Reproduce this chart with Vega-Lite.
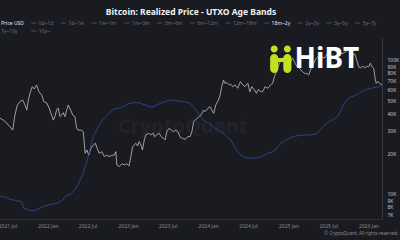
{
  "$schema": "https://vega.github.io/schema/vega-lite/v6.json",
  "width": 382,
  "height": 181,
  "autosize": {"type": "none"},
  "padding": {"left": 0, "top": 38, "right": 18, "bottom": 21},
  "background": "#1a1a21",
  "config": {
    "view": {"stroke": null},
    "font": "Noto Sans",
    "axis": {"grid": false, "ticks": false}
  },
  "title": {
    "text": "Bitcoin: Realized Price - UTXO Age Bands",
    "color": "#f2f2f2",
    "fontSize": 8.5,
    "fontWeight": "bold",
    "font": "Noto Sans",
    "anchor": "middle",
    "offset": 4
  },
  "datasets": {
    "series": [
      {"d":"2021-05-28","s":"Price USD","v":36700},
      {"d":"2021-06-12","s":"Price USD","v":35600},
      {"d":"2021-06-27","s":"Price USD","v":33900},
      {"d":"2021-07-13","s":"Price USD","v":31600},
      {"d":"2021-07-25","s":"Price USD","v":30000},
      {"d":"2021-08-04","s":"Price USD","v":38900},
      {"d":"2021-08-15","s":"Price USD","v":46100},
      {"d":"2021-08-27","s":"Price USD","v":48800},
      {"d":"2021-09-08","s":"Price USD","v":50300},
      {"d":"2021-09-19","s":"Price USD","v":46100},
      {"d":"2021-09-27","s":"Price USD","v":42300},
      {"d":"2021-10-04","s":"Price USD","v":50300},
      {"d":"2021-10-12","s":"Price USD","v":56700},
      {"d":"2021-10-22","s":"Price USD","v":63200},
      {"d":"2021-10-31","s":"Price USD","v":60800},
      {"d":"2021-11-11","s":"Price USD","v":65100},
      {"d":"2021-11-21","s":"Price USD","v":58000},
      {"d":"2021-12-04","s":"Price USD","v":54800},
      {"d":"2021-12-14","s":"Price USD","v":48800},
      {"d":"2021-12-27","s":"Price USD","v":47800},
      {"d":"2022-01-07","s":"Price USD","v":43800},
      {"d":"2022-01-18","s":"Price USD","v":38900},
      {"d":"2022-01-26","s":"Price USD","v":35600},
      {"d":"2022-02-02","s":"Price USD","v":37800},
      {"d":"2022-02-10","s":"Price USD","v":42300},
      {"d":"2022-02-17","s":"Price USD","v":43800},
      {"d":"2022-02-25","s":"Price USD","v":37800},
      {"d":"2022-03-05","s":"Price USD","v":38900},
      {"d":"2022-03-12","s":"Price USD","v":40400},
      {"d":"2022-03-20","s":"Price USD","v":37800},
      {"d":"2022-03-28","s":"Price USD","v":42300},
      {"d":"2022-04-04","s":"Price USD","v":46100},
      {"d":"2022-04-15","s":"Price USD","v":42300},
      {"d":"2022-04-24","s":"Price USD","v":38900},
      {"d":"2022-05-04","s":"Price USD","v":37800},
      {"d":"2022-05-12","s":"Price USD","v":31100},
      {"d":"2022-05-18","s":"Price USD","v":30000},
      {"d":"2022-06-01","s":"Price USD","v":30000},
      {"d":"2022-06-11","s":"Price USD","v":29200},
      {"d":"2022-06-20","s":"Price USD","v":20100},
      {"d":"2022-06-28","s":"Price USD","v":21300},
      {"d":"2022-07-06","s":"Price USD","v":19500},
      {"d":"2022-07-16","s":"Price USD","v":21900},
      {"d":"2022-07-27","s":"Price USD","v":23200},
      {"d":"2022-08-05","s":"Price USD","v":23900},
      {"d":"2022-08-14","s":"Price USD","v":21900},
      {"d":"2022-08-23","s":"Price USD","v":20100},
      {"d":"2022-09-04","s":"Price USD","v":20700},
      {"d":"2022-09-15","s":"Price USD","v":19000},
      {"d":"2022-09-26","s":"Price USD","v":19500},
      {"d":"2022-10-07","s":"Price USD","v":19000},
      {"d":"2022-10-20","s":"Price USD","v":19500},
      {"d":"2022-10-30","s":"Price USD","v":19500},
      {"d":"2022-11-07","s":"Price USD","v":20700},
      {"d":"2022-11-11","s":"Price USD","v":16500},
      {"d":"2022-11-22","s":"Price USD","v":16000},
      {"d":"2022-12-04","s":"Price USD","v":16800},
      {"d":"2022-12-15","s":"Price USD","v":16500},
      {"d":"2022-12-26","s":"Price USD","v":16800},
      {"d":"2023-01-06","s":"Price USD","v":16200},
      {"d":"2023-01-14","s":"Price USD","v":19000},
      {"d":"2023-01-22","s":"Price USD","v":22500},
      {"d":"2023-01-29","s":"Price USD","v":23200},
      {"d":"2023-02-06","s":"Price USD","v":23900},
      {"d":"2023-02-14","s":"Price USD","v":22800},
      {"d":"2023-02-21","s":"Price USD","v":24600},
      {"d":"2023-03-01","s":"Price USD","v":23200},
      {"d":"2023-03-08","s":"Price USD","v":21300},
      {"d":"2023-03-16","s":"Price USD","v":25300},
      {"d":"2023-03-23","s":"Price USD","v":27600},
      {"d":"2023-04-05","s":"Price USD","v":28400},
      {"d":"2023-04-15","s":"Price USD","v":27600},
      {"d":"2023-04-26","s":"Price USD","v":28400},
      {"d":"2023-05-02","s":"Price USD","v":26800},
      {"d":"2023-05-12","s":"Price USD","v":27600},
      {"d":"2023-05-23","s":"Price USD","v":28400},
      {"d":"2023-06-01","s":"Price USD","v":26800},
      {"d":"2023-06-12","s":"Price USD","v":26000},
      {"d":"2023-06-19","s":"Price USD","v":25300},
      {"d":"2023-06-27","s":"Price USD","v":29200},
      {"d":"2023-07-07","s":"Price USD","v":30900},
      {"d":"2023-07-17","s":"Price USD","v":30000},
      {"d":"2023-07-27","s":"Price USD","v":29200},
      {"d":"2023-08-07","s":"Price USD","v":30000},
      {"d":"2023-08-16","s":"Price USD","v":29200},
      {"d":"2023-08-27","s":"Price USD","v":26500},
      {"d":"2023-09-06","s":"Price USD","v":26000},
      {"d":"2023-09-18","s":"Price USD","v":25600},
      {"d":"2023-10-01","s":"Price USD","v":26800},
      {"d":"2023-10-11","s":"Price USD","v":26800},
      {"d":"2023-10-19","s":"Price USD","v":29200},
      {"d":"2023-10-27","s":"Price USD","v":34600},
      {"d":"2023-11-06","s":"Price USD","v":36100},
      {"d":"2023-11-18","s":"Price USD","v":37400},
      {"d":"2023-11-30","s":"Price USD","v":38900},
      {"d":"2023-12-11","s":"Price USD","v":42300},
      {"d":"2023-12-18","s":"Price USD","v":41100},
      {"d":"2023-12-31","s":"Price USD","v":43600},
      {"d":"2024-01-10","s":"Price USD","v":44800},
      {"d":"2024-01-18","s":"Price USD","v":42300},
      {"d":"2024-01-26","s":"Price USD","v":40000},
      {"d":"2024-02-05","s":"Price USD","v":46100},
      {"d":"2024-02-17","s":"Price USD","v":50300},
      {"d":"2024-02-25","s":"Price USD","v":54800},
      {"d":"2024-03-03","s":"Price USD","v":63200},
      {"d":"2024-03-11","s":"Price USD","v":70900},
      {"d":"2024-03-18","s":"Price USD","v":67000},
      {"d":"2024-03-27","s":"Price USD","v":67700},
      {"d":"2024-04-06","s":"Price USD","v":65100},
      {"d":"2024-04-12","s":"Price USD","v":66200},
      {"d":"2024-04-22","s":"Price USD","v":63200},
      {"d":"2024-05-03","s":"Price USD","v":65100},
      {"d":"2024-05-15","s":"Price USD","v":61500},
      {"d":"2024-05-27","s":"Price USD","v":68900},
      {"d":"2024-06-07","s":"Price USD","v":65100},
      {"d":"2024-06-17","s":"Price USD","v":63200},
      {"d":"2024-06-30","s":"Price USD","v":67000},
      {"d":"2024-07-09","s":"Price USD","v":58000},
      {"d":"2024-07-18","s":"Price USD","v":63200},
      {"d":"2024-07-30","s":"Price USD","v":59700},
      {"d":"2024-08-08","s":"Price USD","v":56400},
      {"d":"2024-08-17","s":"Price USD","v":60400},
      {"d":"2024-08-26","s":"Price USD","v":58000},
      {"d":"2024-09-06","s":"Price USD","v":58000},
      {"d":"2024-09-16","s":"Price USD","v":63200},
      {"d":"2024-09-29","s":"Price USD","v":61500},
      {"d":"2024-10-11","s":"Price USD","v":65100},
      {"d":"2024-10-21","s":"Price USD","v":67000},
      {"d":"2024-10-29","s":"Price USD","v":75100},
      {"d":"2024-11-10","s":"Price USD","v":84200},
      {"d":"2024-11-21","s":"Price USD","v":94500},
      {"d":"2024-11-28","s":"Price USD","v":100000},
      {"d":"2024-12-15","s":"Price USD","v":105300},
      {"d":"2024-12-29","s":"Price USD","v":96600},
      {"d":"2025-01-07","s":"Price USD","v":95000},
      {"d":"2025-01-20","s":"Price USD","v":103000},
      {"d":"2025-02-04","s":"Price USD","v":91800},
      {"d":"2025-02-20","s":"Price USD","v":86700},
      {"d":"2025-03-07","s":"Price USD","v":81400},
      {"d":"2025-03-21","s":"Price USD","v":78600},
      {"d":"2025-03-26","s":"Price USD","v":79600},
      {"d":"2025-04-03","s":"Price USD","v":77300},
      {"d":"2025-04-11","s":"Price USD","v":84200},
      {"d":"2025-04-21","s":"Price USD","v":90200},
      {"d":"2025-05-05","s":"Price USD","v":101700},
      {"d":"2025-05-19","s":"Price USD","v":107100},
      {"d":"2025-06-01","s":"Price USD","v":105300},
      {"d":"2025-06-15","s":"Price USD","v":103500},
      {"d":"2025-06-29","s":"Price USD","v":112800},
      {"d":"2025-07-12","s":"Price USD","v":116700},
      {"d":"2025-07-26","s":"Price USD","v":118700},
      {"d":"2025-08-09","s":"Price USD","v":114700},
      {"d":"2025-08-13","s":"Price USD","v":120800},
      {"d":"2025-08-27","s":"Price USD","v":110900},
      {"d":"2025-09-10","s":"Price USD","v":112800},
      {"d":"2025-09-23","s":"Price USD","v":116700},
      {"d":"2025-10-07","s":"Price USD","v":122900},
      {"d":"2025-10-18","s":"Price USD","v":109000},
      {"d":"2025-10-30","s":"Price USD","v":110900},
      {"d":"2025-11-08","s":"Price USD","v":100000},
      {"d":"2025-11-17","s":"Price USD","v":88700},
      {"d":"2025-11-26","s":"Price USD","v":87200},
      {"d":"2025-12-05","s":"Price USD","v":90200},
      {"d":"2025-12-14","s":"Price USD","v":87200},
      {"d":"2025-12-25","s":"Price USD","v":90200},
      {"d":"2026-01-01","s":"Price USD","v":88700},
      {"d":"2026-01-09","s":"Price USD","v":94500},
      {"d":"2026-01-16","s":"Price USD","v":89100},
      {"d":"2026-01-24","s":"Price USD","v":86700},
      {"d":"2026-02-01","s":"Price USD","v":70900},
      {"d":"2026-02-05","s":"Price USD","v":67000},
      {"d":"2026-02-11","s":"Price USD","v":68900},
      {"d":"2026-02-20","s":"Price USD","v":67000},
      {"d":"2026-03-03","s":"Price USD","v":65100},
      {"d":"2021-05-28","s":"18m~2y","v":9550},
      {"d":"2021-06-20","s":"18m~2y","v":9550},
      {"d":"2021-07-13","s":"18m~2y","v":9130},
      {"d":"2021-08-12","s":"18m~2y","v":8910},
      {"d":"2021-09-04","s":"18m~2y","v":8760},
      {"d":"2021-09-14","s":"18m~2y","v":7820},
      {"d":"2021-10-04","s":"18m~2y","v":7600},
      {"d":"2021-10-27","s":"18m~2y","v":7510},
      {"d":"2021-11-18","s":"18m~2y","v":7690},
      {"d":"2021-12-11","s":"18m~2y","v":8040},
      {"d":"2022-01-03","s":"18m~2y","v":8280},
      {"d":"2022-01-26","s":"18m~2y","v":8420},
      {"d":"2022-02-17","s":"18m~2y","v":8610},
      {"d":"2022-03-12","s":"18m~2y","v":9020},
      {"d":"2022-03-20","s":"18m~2y","v":9550},
      {"d":"2022-04-04","s":"18m~2y","v":9830},
      {"d":"2022-04-19","s":"18m~2y","v":10100},
      {"d":"2022-05-04","s":"18m~2y","v":10800},
      {"d":"2022-05-18","s":"18m~2y","v":11700},
      {"d":"2022-05-24","s":"18m~2y","v":12300},
      {"d":"2022-06-08","s":"18m~2y","v":13900},
      {"d":"2022-06-23","s":"18m~2y","v":16500},
      {"d":"2022-07-06","s":"18m~2y","v":19500},
      {"d":"2022-07-16","s":"18m~2y","v":23200},
      {"d":"2022-07-27","s":"18m~2y","v":26800},
      {"d":"2022-08-08","s":"18m~2y","v":29200},
      {"d":"2022-08-23","s":"18m~2y","v":32700},
      {"d":"2022-09-07","s":"18m~2y","v":35600},
      {"d":"2022-09-30","s":"18m~2y","v":38900},
      {"d":"2022-10-23","s":"18m~2y","v":42300},
      {"d":"2022-11-07","s":"18m~2y","v":43600},
      {"d":"2022-11-22","s":"18m~2y","v":43600},
      {"d":"2022-12-07","s":"18m~2y","v":44800},
      {"d":"2022-12-22","s":"18m~2y","v":46100},
      {"d":"2023-01-06","s":"18m~2y","v":47500},
      {"d":"2023-01-29","s":"18m~2y","v":48000},
      {"d":"2023-02-21","s":"18m~2y","v":48000},
      {"d":"2023-03-08","s":"18m~2y","v":46900},
      {"d":"2023-03-23","s":"18m~2y","v":46100},
      {"d":"2023-04-07","s":"18m~2y","v":44800},
      {"d":"2023-04-29","s":"18m~2y","v":44800},
      {"d":"2023-05-12","s":"18m~2y","v":46100},
      {"d":"2023-06-04","s":"18m~2y","v":48000},
      {"d":"2023-07-05","s":"18m~2y","v":49700},
      {"d":"2023-07-27","s":"18m~2y","v":50300},
      {"d":"2023-08-19","s":"18m~2y","v":49400},
      {"d":"2023-09-18","s":"18m~2y","v":48800},
      {"d":"2023-10-11","s":"18m~2y","v":47500},
      {"d":"2023-10-27","s":"18m~2y","v":44800},
      {"d":"2023-11-11","s":"18m~2y","v":41100},
      {"d":"2023-11-26","s":"18m~2y","v":37800},
      {"d":"2023-12-11","s":"18m~2y","v":35600},
      {"d":"2024-01-03","s":"18m~2y","v":33700},
      {"d":"2024-01-26","s":"18m~2y","v":31500},
      {"d":"2024-02-17","s":"18m~2y","v":30000},
      {"d":"2024-03-11","s":"18m~2y","v":28400},
      {"d":"2024-03-26","s":"18m~2y","v":26800},
      {"d":"2024-04-09","s":"18m~2y","v":25600},
      {"d":"2024-04-15","s":"18m~2y","v":25300},
      {"d":"2024-04-30","s":"18m~2y","v":22500},
      {"d":"2024-05-15","s":"18m~2y","v":20700},
      {"d":"2024-05-30","s":"18m~2y","v":19500},
      {"d":"2024-06-15","s":"18m~2y","v":18800},
      {"d":"2024-07-07","s":"18m~2y","v":18500},
      {"d":"2024-07-30","s":"18m~2y","v":18500},
      {"d":"2024-08-22","s":"18m~2y","v":18800},
      {"d":"2024-09-14","s":"18m~2y","v":19500},
      {"d":"2024-10-06","s":"18m~2y","v":20300},
      {"d":"2024-10-29","s":"18m~2y","v":20900},
      {"d":"2024-11-13","s":"18m~2y","v":22500},
      {"d":"2024-11-28","s":"18m~2y","v":23900},
      {"d":"2024-12-21","s":"18m~2y","v":25300},
      {"d":"2025-01-13","s":"18m~2y","v":26500},
      {"d":"2025-02-04","s":"18m~2y","v":27100},
      {"d":"2025-02-27","s":"18m~2y","v":27400},
      {"d":"2025-03-21","s":"18m~2y","v":27600},
      {"d":"2025-04-11","s":"18m~2y","v":27600},
      {"d":"2025-05-04","s":"18m~2y","v":27900},
      {"d":"2025-05-19","s":"18m~2y","v":29200},
      {"d":"2025-06-11","s":"18m~2y","v":32200},
      {"d":"2025-07-03","s":"18m~2y","v":34600},
      {"d":"2025-07-18","s":"18m~2y","v":35600},
      {"d":"2025-08-03","s":"18m~2y","v":36700},
      {"d":"2025-08-18","s":"18m~2y","v":38900},
      {"d":"2025-09-02","s":"18m~2y","v":43600},
      {"d":"2025-09-17","s":"18m~2y","v":48800},
      {"d":"2025-10-02","s":"18m~2y","v":51800},
      {"d":"2025-10-25","s":"18m~2y","v":53800},
      {"d":"2025-11-17","s":"18m~2y","v":56400},
      {"d":"2025-12-10","s":"18m~2y","v":59000},
      {"d":"2026-01-01","s":"18m~2y","v":60800},
      {"d":"2026-01-24","s":"18m~2y","v":62100},
      {"d":"2026-02-16","s":"18m~2y","v":63200},
      {"d":"2026-03-03","s":"18m~2y","v":64700}
    ],
    "marks": [
      {"d":"2023-09-07","v":31600,"label":"CryptoQuant","kind":"wm"},
      {"d":"2024-11-27","v":101700,"label":"","kind":"icon"},
      {"d":"2025-01-29","v":87200,"label":"HiBT","kind":"logo"}
    ]
  },
  "encoding": {
    "x": {
      "field": "d",
      "type": "temporal",
      "scale": {"type": "utc", "domain": [{"year":2021,"month":5,"date":28,"utc":true},{"year":2026,"month":3,"date":3,"utc":true}]},
      "axis": {
        "orient": "bottom",
        "format": "%Y %b",
        "tickCount": {"interval": "month", "step": 6},
        "labelColor": "#8a8a92",
        "labelFontSize": 5,
        "labelPadding": 4,
        "labelFlush": false,
        "labelOverlap": false,
        "labelBound": false,
        "domainColor": "#2e2f38",
        "title": "© CryptoQuant. All rights reserved.",
        "titleFontSize": 4.5,
        "titleFontWeight": "normal",
        "titleColor": "#8a8a92",
        "titleX": 398,
        "titleY": 14,
        "titleAlign": "right",
        "titleBaseline": "middle"
      }
    },
    "y": {
      "field": "v",
      "type": "quantitative",
      "scale": {"type": "log", "domain": [6508, 145900], "nice": false, "zero": false},
      "axis": {
        "orient": "right",
        "values": [7000,8000,9000,10000,20000,30000,40000,50000,60000,70000,80000,90000,100000],
        "labelExpr": "(datum.value/1000) + 'K'",
        "labelColor": "#c4c4c8",
        "labelFontSize": 5,
        "labelPadding": 5,
        "labelOverlap": false,
        "domainColor": "#3a3b45",
        "title": null
      }
    }
  },
  "layer": [
    {
      "data": {"name": "marks"},
      "transform": [{"filter": "datum.kind == 'wm'"}],
      "mark": {"type": "text", "fontSize": 20, "fontWeight": "bold", "color": "#22222a", "align": "center", "baseline": "middle"},
      "encoding": {"text": {"field": "label"}}
    },
    {
      "data": {"name": "series"},
      "mark": {"type": "line", "strokeWidth": 0.8, "interpolate": "linear"},
      "encoding": {
        "color": {
          "field": "s",
          "type": "nominal",
          "scale": {
            "domain": ["Price USD","0d~1d","1d~1w","1w~1m","1m~3m","3m~6m","6m~12m","12m~18m","18m~2y","2y~3y","3y~5y","5y~7y","7y~10y","10y~"],
            "range": ["#bfbfc4","#4a4c57","#4a4c57","#4a4c57","#4a4c57","#4a4c57","#4a4c57","#4a4c57","#2c4f9e","#4a4c57","#4a4c57","#4a4c57","#4a4c57","#4a4c57"]
          },
          "legend": {
            "orient": "none",
            "legendX": -7,
            "legendY": -18,
            "direction": "horizontal",
            "columns": 12,
            "gridAlign": "none",
            "symbolType": "stroke",
            "symbolSize": 25,
            "symbolStrokeWidth": 1,
            "labelFontSize": 5,
            "labelOffset": 2,
            "columnPadding": 4.7,
            "rowPadding": 2,
            "title": null,
            "labelColor": {"expr": "datum.value == '18m~2y' || datum.value == 'Price USD' ? '#e6e6e8' : '#6c6e7a'"}
          }
        },
        "detail": {"field": "s"}
      }
    },
    {
      "data": {"name": "marks"},
      "transform": [{"filter": "datum.kind == 'icon'"}],
      "mark": {"type": "point", "filled": true, "color": "#c3e021", "opacity": 1, "size": 784, "strokeWidth": 0,
        "shape": "M-0.72,-0.72a0.25,0.25 0 1,0 0.5,0a0.25,0.25 0 1,0 -0.5,0Z M0.22,-0.72a0.25,0.25 0 1,0 0.5,0a0.25,0.25 0 1,0 -0.5,0Z M-0.76,-0.07 A0.29,0.29 0 0,1 -0.18,-0.07 L0.18,-0.07 A0.29,0.29 0 0,1 0.76,-0.07 L0.76,0.71 A0.29,0.29 0 0,1 0.18,0.71 L0.18,0.21 L-0.18,0.21 L-0.18,0.71 A0.29,0.29 0 0,1 -0.76,0.71 Z"}
    },
    {
      "data": {"name": "marks"},
      "transform": [{"filter": "datum.kind == 'logo'"}],
      "mark": {"type": "text", "fontSize": 28, "fontWeight": "bold", "color": "#ffffff", "align": "left", "baseline": "alphabetic"},
      "encoding": {"text": {"field": "label"}}
    }
  ]
}
